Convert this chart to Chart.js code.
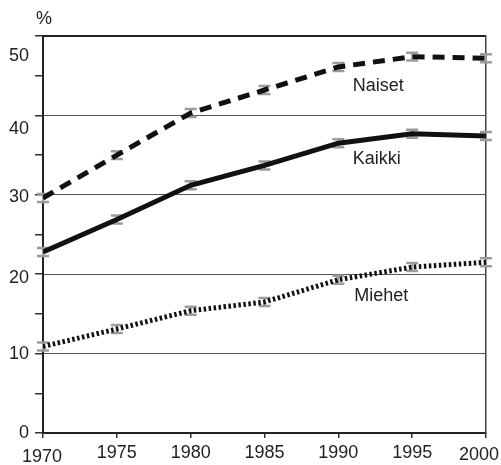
<!DOCTYPE html>
<html>
<head>
<meta charset="utf-8">
<script src="https://cdn.jsdelivr.net/npm/chart.js@4.4.1/dist/chart.umd.min.js"></script>
<style>
  html, body { margin: 0; padding: 0; background: #fff; }
  canvas { display: block; }
</style>
</head>
<body>
<canvas id="chart" width="501" height="465"></canvas>
<script>
// Data
const years = [1970, 1975, 1980, 1985, 1990, 1995, 2000];
const naiset = [29.6, 35.0, 40.3, 43.2, 46.1, 47.4, 47.2];
const kaikki = [22.8, 26.9, 31.2, 33.7, 36.5, 37.7, 37.4];
const miehet = [10.9, 13.1, 15.4, 16.5, 19.3, 20.9, 21.5];
const errorMargin = 0.5;

const yTickValues = [0, 10, 20, 30, 40, 50];
const xTickValues = [1970, 1975, 1980, 1985, 1990, 1995, 2000];

// series labels, placed in data coordinates
const seriesNames = ["Naiset", "Kaikki", "Miehet"];
const nameX = [1992.7, 1992.6, 1992.9];
const nameY = [43.7, 34.5, 17.2];

const FONT = '18px "Liberation Sans", Arial, Helvetica, sans-serif';
const TEXT = '#222';

// label nudges (pixels) so they sit like the original
const yLabelDy = [0, 0, 4, 2, 14, 20];
const xLabelDx = [-1, 0, 0, 0, 0, 0, -7];
const xLabelDy = [4, 0, 0, 0, 0, 0, 2];

function toPoints(arr) {
  return years.map((yr, i) => ({ x: yr, y: arr[i] }));
}

// gray error bars, under the lines
const errorBars = {
  id: 'errorBars',
  beforeDatasetsDraw(chart) {
    const ctx = chart.ctx;
    const xs = chart.scales.x, ys = chart.scales.y;
    ctx.save();
    ctx.strokeStyle = '#9c9c9c';
    chart.data.datasets.forEach(ds => {
      ds.data.forEach(p => {
        const px = xs.getPixelForValue(p.x);
        const top = ys.getPixelForValue(p.y + errorMargin);
        const bot = ys.getPixelForValue(p.y - errorMargin);
        ctx.lineWidth = 2;
        ctx.beginPath();
        ctx.moveTo(px, top); ctx.lineTo(px, bot);
        ctx.stroke();
        ctx.lineWidth = 2.5;
        ctx.beginPath();
        ctx.moveTo(px - 6, top); ctx.lineTo(px + 6, top);
        ctx.moveTo(px - 6, bot); ctx.lineTo(px + 6, bot);
        ctx.stroke();
      });
    });
    ctx.restore();
  }
};

// tick labels, unit and series names
const labels = {
  id: 'labels',
  afterDraw(chart) {
    const ctx = chart.ctx;
    const xs = chart.scales.x, ys = chart.scales.y;
    const area = chart.chartArea;
    ctx.save();
    ctx.font = FONT;
    ctx.fillStyle = TEXT;
    ctx.textBaseline = 'middle';

    ctx.textAlign = 'right';
    yTickValues.forEach((v, i) => {
      ctx.fillText(String(v), 29, ys.getPixelForValue(v) + yLabelDy[i]);
    });

    ctx.textAlign = 'center';
    xTickValues.forEach((v, i) => {
      ctx.fillText(String(v), xs.getPixelForValue(v) + xLabelDx[i], area.bottom + 20 + xLabelDy[i]);
    });

    ctx.fillText('%', area.left + 1, area.top - 17);

    seriesNames.forEach((name, i) => {
      ctx.fillText(name, xs.getPixelForValue(nameX[i]), ys.getPixelForValue(nameY[i]));
    });
    ctx.restore();
  }
};

new Chart(document.getElementById('chart'), {
  type: 'line',
  data: {
    datasets: [
      {
        label: 'Naiset',
        data: toPoints(naiset),
        borderColor: '#111',
        borderWidth: 5,
        borderDash: [12, 8],
        borderCapStyle: 'butt',
        pointRadius: 0,
        tension: 0
      },
      {
        label: 'Kaikki',
        data: toPoints(kaikki),
        borderColor: '#111',
        borderWidth: 5,
        borderCapStyle: 'butt',
        pointRadius: 0,
        tension: 0
      },
      {
        label: 'Miehet',
        data: toPoints(miehet),
        borderColor: '#111',
        borderWidth: 5,
        borderDash: [2.5, 2.5],
        borderCapStyle: 'butt',
        pointRadius: 0,
        tension: 0
      }
    ]
  },
  options: {
    responsive: false,
    animation: false,
    devicePixelRatio: 1,
    layout: { padding: { left: 0, top: 36, right: 15, bottom: 0 } },
    plugins: { legend: { display: false }, tooltip: { enabled: false } },
    scales: {
      x: {
        type: 'linear',
        min: 1970,
        max: 2000,
        ticks: { stepSize: 5, display: false },
        grid: { drawOnChartArea: false, drawTicks: true, tickLength: 5, color: '#333', lineWidth: 1.5 },
        border: { display: true, color: '#222', width: 2 },
        afterFit(scale) { scale.height = 32; }
      },
      y: {
        min: 0,
        max: 50,
        ticks: { stepSize: 5, display: false },
        grid: { drawOnChartArea: false, drawTicks: true, tickLength: 8, color: '#333', lineWidth: 1.5 },
        border: { display: true, color: '#222', width: 2 },
        afterFit(scale) { scale.width = 43; }
      },
      y2: {
        position: 'right',
        min: 0,
        max: 50,
        ticks: { stepSize: 10, display: false },
        grid: {
          drawOnChartArea: true,
          drawTicks: false,
          color: c => (c.tick && c.tick.value === 50) ? '#222' : '#555',
          lineWidth: c => (c.tick && c.tick.value === 50) ? 2 : 1
        },
        border: { display: true, color: '#444', width: 1.5 },
        afterFit(scale) { scale.width = 0; }
      }
    }
  },
  plugins: [errorBars, labels]
});
</script>
</body>
</html>
